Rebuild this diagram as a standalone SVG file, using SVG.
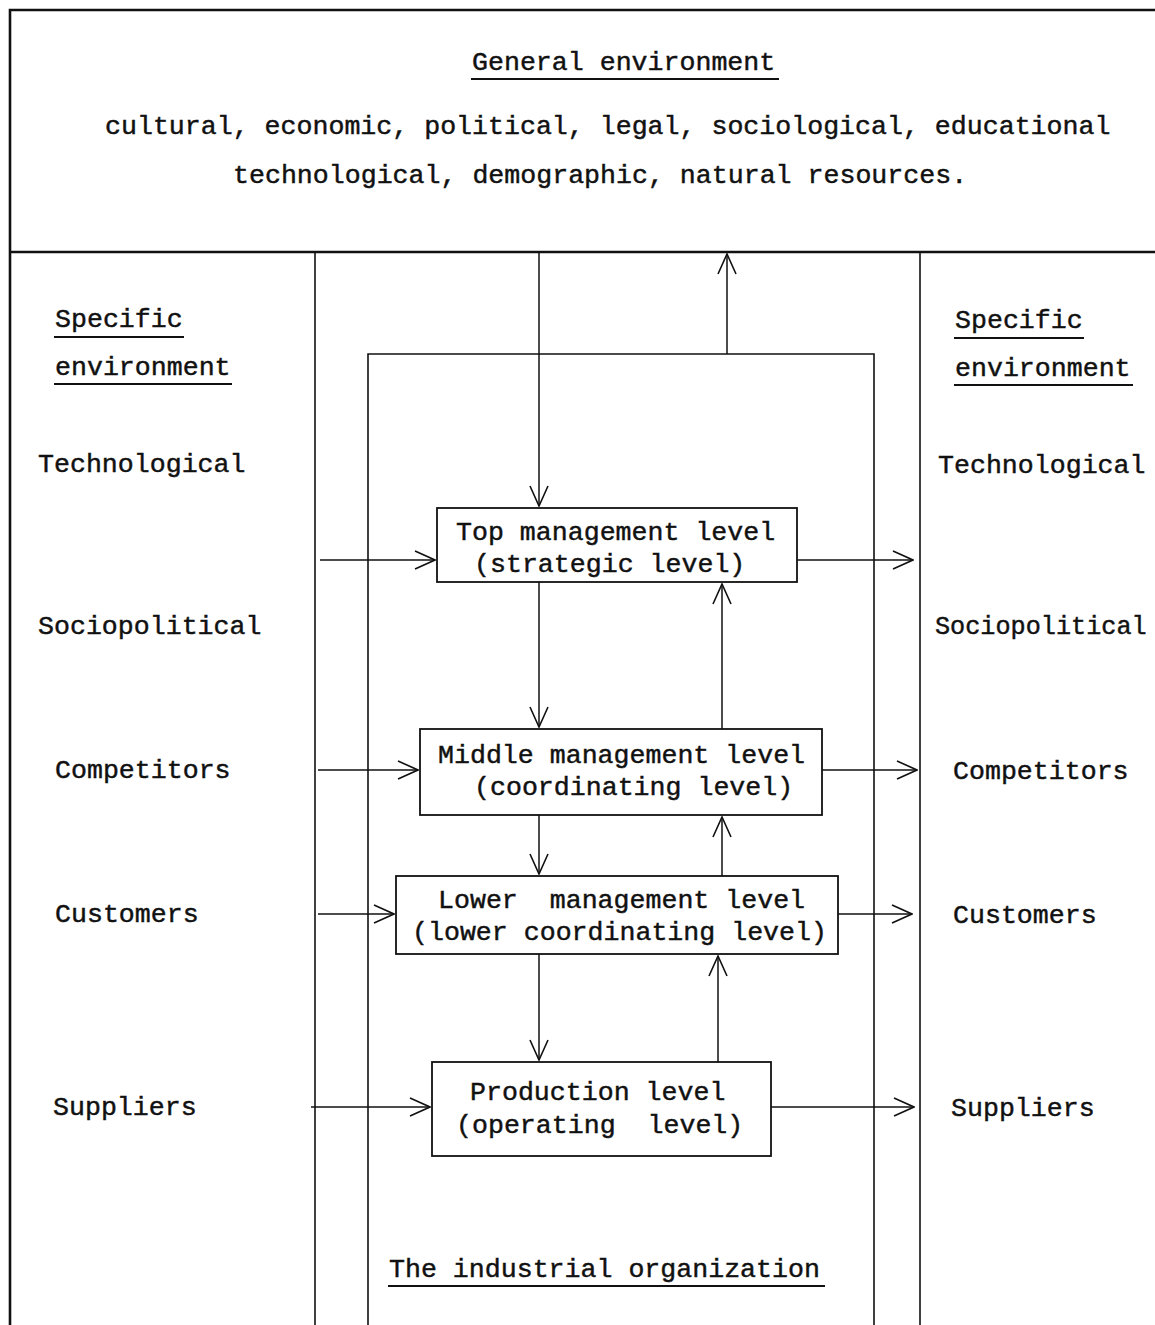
<svg xmlns="http://www.w3.org/2000/svg" width="1155" height="1325" viewBox="0 0 1155 1325">
  <style>
    text { font-family: "Liberation Mono", "Courier New", monospace; font-size: 26.6px; fill: #111; stroke: #111; stroke-width: 0.45; }
    .frame { stroke: #111; stroke-width: 2.6; fill: none; }
    .line { stroke: #111; stroke-width: 1.6; fill: none; }
    .box { stroke: #111; stroke-width: 1.8; fill: #fff; }
    .ul { stroke: #111; stroke-width: 1.8; }
    .arrow { stroke: #111; stroke-width: 1.5; fill: none; marker-end: url(#head); }
  </style>
  <defs>
    <marker id="head" viewBox="0 0 22 20" refX="21" refY="10" markerWidth="22" markerHeight="20" markerUnits="userSpaceOnUse" orient="auto">
      <path d="M1,1 L21,10 L1,19" fill="none" stroke="#111" stroke-width="1.6"/>
    </marker>
  </defs>
  <rect width="1155" height="1325" fill="#fff"/>

  <!-- outer frame and band dividing general from specific environment -->
  <g id="frame">
    <path class="frame" d="M10,1325 V10 H1155"/>
    <line class="frame" x1="10" y1="252" x2="1155" y2="252"/>
    <line class="line" x1="315" y1="252" x2="315" y2="1325"/>
    <line class="line" x1="920" y1="252" x2="920" y2="1325"/>
  </g>

  <!-- general environment -->
  <g id="general-environment">
    <text x="472" y="70">General environment</text>
    <line class="ul" x1="471" y1="79" x2="779" y2="79"/>
    <text x="105" y="134">cultural, economic, political, legal, sociological, educational</text>
    <text x="233" y="183">technological, demographic, natural resources.</text>
  </g>

  <!-- specific environment, left column -->
  <g id="specific-left">
    <text x="55" y="327">Specific</text>
    <line class="ul" x1="54" y1="337" x2="184" y2="337"/>
    <text x="55" y="375">environment</text>
    <line class="ul" x1="54" y1="384" x2="232" y2="384"/>
    <text x="38" y="472">Technological</text>
    <text x="38" y="634">Sociopolitical</text>
    <text x="55" y="778">Competitors</text>
    <text x="55" y="922">Customers</text>
    <text x="53" y="1115">Suppliers</text>
  </g>

  <!-- specific environment, right column -->
  <g id="specific-right">
    <text x="955" y="328">Specific</text>
    <line class="ul" x1="954" y1="338" x2="1084" y2="338"/>
    <text x="955" y="376">environment</text>
    <line class="ul" x1="954" y1="385" x2="1133" y2="385"/>
    <text x="938" y="473">Technological</text>
    <text x="935" y="634" style="font-size:25.2px">Sociopolitical</text>
    <text x="953" y="779">Competitors</text>
    <text x="953" y="923">Customers</text>
    <text x="951" y="1116">Suppliers</text>
  </g>

  <!-- the industrial organization (open at the bottom) -->
  <g id="organization">
    <path class="line" d="M368,1325 V354 H874 V1325"/>
    <text x="389" y="1277">The industrial organization</text>
    <line class="ul" x1="388" y1="1286" x2="825" y2="1286"/>
  </g>

  <g id="connectors">
    <!-- general environment <-> organization -->
    <line class="arrow" x1="539" y1="252" x2="539" y2="506"/>
    <line class="arrow" x1="727" y1="354" x2="727" y2="254"/>
    <!-- downward flow -->
    <line class="arrow" x1="539" y1="582" x2="539" y2="727"/>
    <line class="arrow" x1="539" y1="815" x2="539" y2="874"/>
    <line class="arrow" x1="539" y1="954" x2="539" y2="1060"/>
    <!-- upward flow -->
    <line class="arrow" x1="722" y1="729" x2="722" y2="584"/>
    <line class="arrow" x1="722" y1="876" x2="722" y2="817"/>
    <line class="arrow" x1="718" y1="1062" x2="718" y2="956"/>
    <!-- inputs from the left -->
    <line class="arrow" x1="320" y1="560" x2="435" y2="560"/>
    <line class="arrow" x1="318" y1="770" x2="418" y2="770"/>
    <line class="arrow" x1="318" y1="914" x2="394" y2="914"/>
    <line class="arrow" x1="311" y1="1107" x2="430" y2="1107"/>
    <!-- outputs to the right -->
    <line class="arrow" x1="797" y1="560" x2="913" y2="560"/>
    <line class="arrow" x1="822" y1="770" x2="917" y2="770"/>
    <line class="arrow" x1="838" y1="914" x2="912" y2="914"/>
    <line class="arrow" x1="771" y1="1107" x2="914" y2="1107"/>
  </g>

  <g id="top-management">
    <rect class="box" x="437" y="508" width="360" height="74"/>
    <text x="456" y="540">Top management level</text>
    <text x="474" y="572">(strategic level)</text>
  </g>

  <g id="middle-management">
    <rect class="box" x="420" y="729" width="402" height="86"/>
    <text x="438" y="763">Middle management level</text>
    <text x="474" y="795">(coordinating level)</text>
  </g>

  <g id="lower-management">
    <rect class="box" x="396" y="876" width="442" height="78"/>
    <text x="438" y="908" xml:space="preserve">Lower  management level</text>
    <text x="412" y="940">(lower coordinating level)</text>
  </g>

  <g id="production">
    <rect class="box" x="432" y="1062" width="339" height="94"/>
    <text x="470" y="1100">Production level</text>
    <text x="456" y="1133" xml:space="preserve">(operating  level)</text>
  </g>
</svg>
